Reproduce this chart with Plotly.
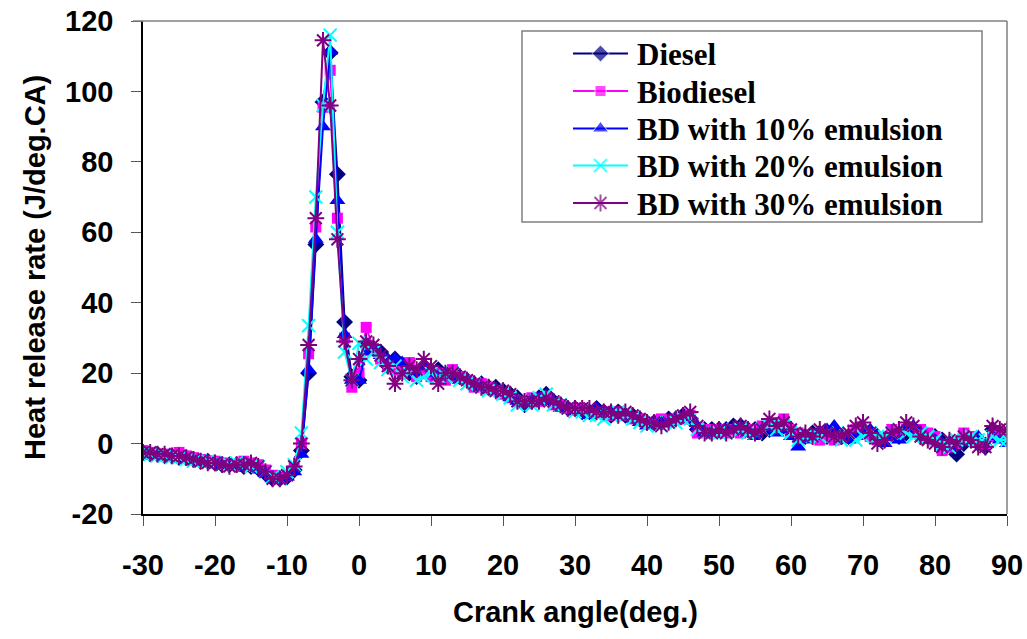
import plotly.graph_objects as go

crank_angle = list(range(-30, 91))

diesel = [
    -2.5, -3, -3, -3.5, -3.5, -4, -4, -4.5, -5, -5,
    -5.5, -6, -6, -6, -6.5, -6.5, -7, -8.5, -10, -10,
    -9.5, -7.5, -2, 20, 56.5, 97, 111, 76.5, 34.5, 19,
    18, 28, 27, 26, 22, 24, 21, 20, 19, 21,
    20, 21, 19, 20, 19, 18, 17, 17, 16, 16,
    15, 14, 13, 11, 12, 13, 14, 12, 11, 10,
    10, 9, 9, 10, 9, 8, 9, 8, 8, 7,
    6, 6, 6, 7, 7, 8, 7, 4, 4, 4,
    4, 4, 5, 5, 4, 4, 3, 4, 5, 5,
    4, 2, 2, 3, 3, 2, 3, 2, 2, 3,
    4, 3, 2, 1, 3, 2, 3, 4, 2, 2,
    2, 1, 0, -3, 0, 1, 0, -1, 4, 3,
    2,
]

biodiesel = [
    -2, -2.5, -3, -3, -3.5, -2.5, -3.5, -4, -4.5, -5,
    -5, -5.5, -6, -6, -5, -5.5, -6, -7.5, -9, -10,
    -9, -7, 0, 25.5, 61.5, 95.5, 106, 64, 30, 16,
    20, 33, 27, 24, 22, 21, 20, 23, 19, 20,
    19, 20, 18, 21, 19, 18, 16, 17, 16, 15,
    14, 13, 12, 12, 13, 12, 13, 11, 11, 10,
    10, 10, 9, 9, 9, 8, 9, 8, 7, 7,
    6, 6, 7, 6, 7, 7, 8, 3, 4, 4,
    4, 3, 4, 3, 4, 4, 5, 5, 6, 7,
    4, 3, 2, 2, 1, 2, 1, 2, 2, 4,
    3, 2, 1, 1, 4, 3, 4, 4, 4, 3,
    2, -2, -1, 0, 3, 2, 1, 0, 2, 3,
    1,
]

bd10 = [
    -3, -3.5, -3.5, -4, -4, -4, -4.5, -5, -5, -5.5,
    -6, -6, -6.5, -6.5, -7, -7, -7.5, -8.5, -10, -10.5,
    -9.5, -8, -3, 21, 58, 90, 111.5, 69, 31, 18,
    18, 26, 27, 25, 24, 24, 23, 21, 20, 22,
    20, 19, 20, 19, 18, 18, 17, 16, 15, 15,
    14, 13, 12, 11, 12, 13, 12, 12, 10, 10,
    9, 9, 8, 10, 9, 9, 8, 8, 7, 6,
    5, 6, 6, 6, 7, 7, 8, 5, 3, 3,
    4, 4, 4, 5, 3, 2, 4, 4, 3, 4,
    2, -1, 1, 2, 3, 4, 5, 2, 1, 2,
    3, 4, 2, 0, 2, 1, 4, 5, 3, 1,
    1, 0, -1, 0, 1, 1, 2, 0, 2, 1,
    0,
]

bd20 = [
    -3, -3, -3.5, -3.5, -4, -4, -4.5, -5, -5, -5,
    -5.5, -6, -6, -5.5, -6, -6.5, -6.5, -8, -9.5, -10,
    -8, -6, 3, 33.5, 70, 96, 116, 60, 26, 18,
    28.5, 24, 26, 23, 21, 22, 19, 20, 18, 19,
    20, 19, 19, 20, 18, 17, 17, 16, 15, 15,
    14, 13, 11, 12, 11, 13, 14, 11, 11, 10,
    9, 9, 8, 8, 7, 8, 9, 8, 7, 6,
    5, 6, 5, 6, 6, 7, 7, 4, 3, 3,
    3, 3, 4, 4, 3, 3, 4, 5, 4, 5,
    3, 1, 2, 2, 2, 3, 2, 1, 3, 1,
    2, 3, 2, 2, 3, 4, 3, 2, 3, 2,
    1, 0, -1, 1, 1, 2, 1, 1, 2, 1,
    1,
]

bd30 = [
    -2.5, -2.5, -3, -3, -3.5, -3.5, -4, -4.5, -5, -5.5,
    -5.5, -6, -6.5, -6, -6, -5.5, -6.5, -8, -10, -10,
    -9, -6.5, 0, 28, 64, 114.5, 96, 58, 29, 18,
    24, 29, 28, 25, 22, 17, 20, 22, 21, 24,
    22, 17, 20, 20, 19, 18, 17, 16, 16, 15,
    15, 14, 12, 12, 12, 12, 13, 12, 11, 10,
    10, 10, 10, 9, 9, 9, 8, 9, 8, 7,
    6, 6, 5, 6, 7, 8, 9, 5, 3, 3,
    4, 3, 4, 5, 4, 3, 4, 7, 5, 6,
    4, 2, 3, 2, 4, 3, 2, 2, 3, 5,
    6, 3, 0, 1, 3, 4, 6, 5, 2, 1,
    0, -1, 1, 0, 2, 1, -1, -1, 5, 4,
    4,
]

x_ticks = [-30, -20, -10, 0, 10, 20, 30, 40, 50, 60, 70, 80, 90]
x_tick_labels = ["-30", "-20", "-10", "0", "10", "20", "30", "40", "50", "60", "70", "80", "90"]
y_ticks = [-20, 0, 20, 40, 60, 80, 100, 120]
y_tick_labels = ["-20", "0", "20", "40", "60", "80", "100", "120"]

series = [
    ("Diesel", diesel, "#000080", dict(symbol="diamond", size=13)),
    ("Biodiesel", biodiesel, "#FF00FF", dict(symbol="square", size=11)),
    ("BD with 10% emulsion", bd10, "#0000FF", dict(symbol="triangle-up", size=14)),
    ("BD with 20% emulsion", bd20, "#00FFFF", dict(symbol="x-thin-open", size=13, line=dict(width=2, color="#00FFFF"))),
    ("BD with 30% emulsion", bd30, "#800080", dict(symbol="asterisk-open", size=14, line=dict(width=2, color="#800080"))),
]

# Legend layout (pixel frame of an overlay axis pair spanning the plot area)
PLOT_L, PLOT_R, PLOT_T, PLOT_B = 143, 1007, 21, 514
leg_rows = [53.5, 91, 128.5, 165.5, 203]
leg_line_x = [573, 600.5, 628]
leg_text_x = 635

fig = go.Figure()
for name, vals, color, mk in series:
    m = dict(color=color)
    m.update(mk)
    fig.add_trace(go.Scatter(
        x=crank_angle, y=vals, name=name, mode="lines+markers",
        line=dict(color=color, width=2), marker=m, showlegend=False,
    ))

annotations = []
for (name, vals, color, mk), row in zip(series, leg_rows):
    m = dict(color=color)
    m.update(mk)
    m["size"] = [0, mk["size"], 0]
    fig.add_trace(go.Scatter(
        x=leg_line_x, y=[row] * 3, xaxis="x2", yaxis="y2", mode="lines+markers",
        line=dict(color=color, width=2), marker=m, showlegend=False, hoverinfo="skip",
    ))
    annotations.append(dict(
        text=name, xref="x2", yref="y2", x=leg_text_x, y=row + 1,
        xanchor="left", yanchor="middle", showarrow=False,
        font=dict(family="Liberation Serif, Times New Roman", size=31, color="black", weight="bold"),
    ))

tick_font = dict(family="Liberation Sans, Arial", size=29, color="black", weight="bold")
title_font = dict(family="Liberation Sans, Arial", size=29, color="black", weight="bold")

annotations += [
    dict(text="Crank angle(deg.)", xref="paper", yref="paper", x=0.5, y=(514 - 612) / 493,
         xanchor="center", yanchor="middle", showarrow=False, font=title_font),
    dict(text="Heat release rate (J/deg.CA)", xref="paper", yref="paper",
         x=(35 - 143) / 864, y=(514 - 268) / 493, textangle=-90,
         xanchor="center", yanchor="middle", showarrow=False, font=title_font),
]

fig.update_layout(
    width=1027, height=639,
    margin=dict(l=PLOT_L, r=1027 - PLOT_R, t=PLOT_T, b=639 - PLOT_B, autoexpand=False),
    paper_bgcolor="white", plot_bgcolor="white",
    showlegend=False,
    xaxis=dict(
        range=[-30, 90], tickvals=x_ticks, ticktext=x_tick_labels, ticks="outside", ticklen=10,
        tickcolor="#555555", showline=True, linecolor="black", linewidth=1.5, automargin=False,
        showgrid=False, zeroline=False, tickfont=tick_font, ticklabelstandoff=14,
    ),
    yaxis=dict(
        range=[-20, 120], tickvals=y_ticks, ticktext=y_tick_labels, ticks="outside", ticklen=10,
        tickcolor="#555555", showline=True, linecolor="black", linewidth=1.5, automargin=False,
        showgrid=False, zeroline=False, tickfont=tick_font, ticklabelstandoff=12,
    ),
    xaxis2=dict(overlaying="x", anchor="y2", range=[PLOT_L, PLOT_R], visible=False, fixedrange=True),
    yaxis2=dict(overlaying="y", anchor="x2", range=[PLOT_B, PLOT_T], visible=False, fixedrange=True),
    shapes=[
        dict(type="line", xref="paper", yref="paper", x0=-10 / 864, x1=1, y0=1, y1=1,
             line=dict(color="#808080", width=1.5)),
        dict(type="line", xref="paper", yref="paper", x0=1, x1=1, y0=0, y1=1,
             line=dict(color="#808080", width=1.5)),
        dict(type="rect", xref="x2", yref="y2", x0=522, x1=982, y0=222, y1=31,
             line=dict(color="#808080", width=1.5), fillcolor="white", layer="below"),
    ],
    annotations=annotations,
)

fig.write_html("out.html")
